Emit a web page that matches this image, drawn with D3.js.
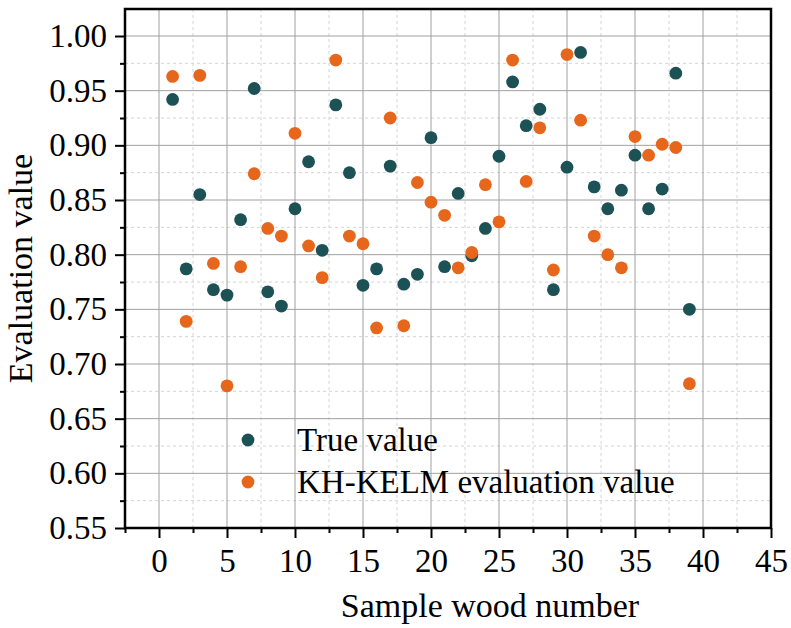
<!DOCTYPE html>
<html>
<head>
<meta charset="utf-8">
<script src="https://cdn.jsdelivr.net/npm/d3@7"></script>
<style>
  body { margin: 0; background: #fff; }
  svg { display: block; }
</style>
</head>
<body>
<svg id="chart"></svg>
<script>
// --- Data ---
const sampleNumbers = d3.range(1, 40);
const trueValues = [0.942, 0.787, 0.855, 0.768, 0.763, 0.832, 0.952, 0.766, 0.753, 0.842,
  0.885, 0.804, 0.937, 0.875, 0.772, 0.787, 0.881, 0.773, 0.782, 0.907,
  0.789, 0.856, 0.799, 0.824, 0.890, 0.958, 0.918, 0.933, 0.768, 0.880,
  0.985, 0.862, 0.842, 0.859, 0.891, 0.842, 0.860, 0.966, 0.750];
const kelmValues = [0.963, 0.739, 0.964, 0.792, 0.680, 0.789, 0.874, 0.824, 0.817, 0.911,
  0.808, 0.779, 0.978, 0.817, 0.810, 0.733, 0.925, 0.735, 0.866, 0.848,
  0.836, 0.788, 0.802, 0.864, 0.830, 0.978, 0.867, 0.916, 0.786, 0.983,
  0.923, 0.817, 0.800, 0.788, 0.908, 0.891, 0.901, 0.898, 0.682];
const xMajorTicks = [0, 5, 10, 15, 20, 25, 30, 35, 40, 45];
const xMinorTicks = [-2.5, 2.5, 7.5, 12.5, 17.5, 22.5, 27.5, 32.5, 37.5, 42.5];
const yMajorTicks = [0.55, 0.60, 0.65, 0.70, 0.75, 0.80, 0.85, 0.90, 0.95, 1.00];
const yMinorTicks = [0.575, 0.625, 0.675, 0.725, 0.775, 0.825, 0.875, 0.925, 0.975];
const seriesNames = ["True value", "KH-KELM evaluation value"];
const seriesColors = ["#1c5155", "#e6661c"];

// --- Layout ---
const width = 791, height = 628;
const plot = { left: 125, right: 771, top: 9, bottom: 528 };
const FONT = "Liberation Serif, Times New Roman, serif";

const svg = d3.select("#chart").attr("width", width).attr("height", height);
svg.append("rect").attr("width", width).attr("height", height).attr("fill", "#fff");

const x = d3.scaleLinear().domain([-2.5, 45]).range([plot.left, plot.right]);
const y = d3.scaleLinear().domain([0.55, 1.0247]).range([plot.bottom, plot.top]);

// Grid: minor dashed first, then major solid
const grid = svg.append("g").attr("class", "grid");
grid.selectAll(".vminor").data(xMinorTicks.filter(d => d > -2.5)).enter().append("line")
  .attr("x1", d => x(d)).attr("x2", d => x(d))
  .attr("y1", plot.top).attr("y2", plot.bottom)
  .attr("stroke", "#d4d4d4").attr("stroke-width", 1).attr("stroke-dasharray", "3,3");
grid.selectAll(".hminor").data(yMinorTicks).enter().append("line")
  .attr("x1", plot.left).attr("x2", plot.right)
  .attr("y1", d => y(d)).attr("y2", d => y(d))
  .attr("stroke", "#d4d4d4").attr("stroke-width", 1).attr("stroke-dasharray", "3,3");
grid.selectAll(".vmajor").data(xMajorTicks.filter(d => d < 45)).enter().append("line")
  .attr("x1", d => x(d)).attr("x2", d => x(d))
  .attr("y1", plot.top).attr("y2", plot.bottom)
  .attr("stroke", "#a0a0a0").attr("stroke-width", 1);
grid.selectAll(".hmajor").data(yMajorTicks.filter(d => d > 0.55)).enter().append("line")
  .attr("x1", plot.left).attr("x2", plot.right)
  .attr("y1", d => y(d)).attr("y2", d => y(d))
  .attr("stroke", "#a0a0a0").attr("stroke-width", 1);

// Points: true value under, KH-KELM on top
const series = [trueValues, kelmValues];
series.forEach((vals, i) => {
  svg.append("g").selectAll("circle")
    .data(vals.map((v, j) => ({ n: sampleNumbers[j], v })))
    .enter().append("circle")
    .attr("cx", d => x(d.n))
    .attr("cy", d => y(d.v))
    .attr("r", 6.4)
    .attr("fill", seriesColors[i]);
});

// Frame
svg.append("rect")
  .attr("x", plot.left).attr("y", plot.top)
  .attr("width", plot.right - plot.left).attr("height", plot.bottom - plot.top)
  .attr("fill", "none").attr("stroke", "#000").attr("stroke-width", 2.5);

// Axes
function styleAxis(g) {
  g.attr("font-family", FONT).attr("font-size", 33);
  g.select(".domain").remove();
  g.selectAll("line").attr("stroke", "#000").attr("stroke-width", 2);
  g.selectAll("text").attr("fill", "#000")
    .attr("font-family", FONT).attr("font-size", 33);
}

svg.append("g").attr("transform", `translate(0,${plot.bottom})`)
  .call(d3.axisBottom(x).tickValues(xMajorTicks).tickSize(10).tickPadding(11).tickFormat(d3.format("d")))
  .call(styleAxis);
svg.append("g").attr("transform", `translate(0,${plot.bottom})`)
  .call(d3.axisBottom(x).tickValues(xMinorTicks).tickSize(5).tickFormat(""))
  .call(styleAxis);
svg.append("g").attr("transform", `translate(${plot.left},0)`)
  .call(d3.axisLeft(y).tickValues(yMajorTicks).tickSize(10).tickPadding(8).tickFormat(d3.format(".2f")))
  .call(styleAxis);
svg.append("g").attr("transform", `translate(${plot.left},0)`)
  .call(d3.axisLeft(y).tickValues(yMinorTicks).tickSize(5).tickFormat(""))
  .call(styleAxis);

// Axis titles
svg.append("text")
  .attr("x", 490).attr("y", 617)
  .attr("text-anchor", "middle")
  .attr("font-family", FONT).attr("font-size", 34)
  .text("Sample wood number");
svg.append("text")
  .attr("transform", `translate(32,${(plot.top + plot.bottom) / 2}) rotate(-90)`)
  .attr("text-anchor", "middle")
  .attr("font-family", FONT).attr("font-size", 34)
  .text("Evaluation value");

// Legend
const legend = svg.append("g").attr("transform", "translate(248,440)");
seriesNames.forEach((name, i) => {
  const row = legend.append("g").attr("transform", `translate(0,${i * 42})`);
  row.append("circle").attr("r", 6.4).attr("fill", seriesColors[i]);
  row.append("text").attr("x", 49).attr("dy", "0.33em")
    .attr("font-family", FONT).attr("font-size", 33)
    .text(name);
});
</script>
</body>
</html>
